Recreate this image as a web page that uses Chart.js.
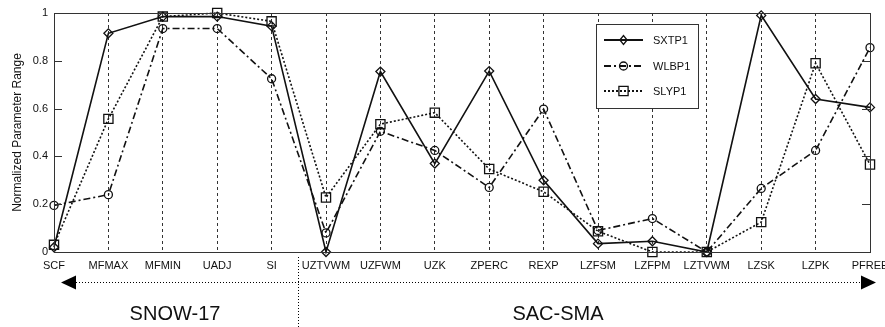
<!DOCTYPE html>
<html>
<head>
<meta charset="utf-8">
<script src="https://cdn.jsdelivr.net/npm/chart.js@4.4.1/dist/chart.umd.min.js"></script>
<style>
html,body{margin:0;padding:0;background:#fff;}
#wrap{width:885px;height:327px;}
</style>
</head>
<body>
<div id="wrap"><canvas id="c" width="885" height="327"></canvas></div>
<script>
const categories = ['SCF','MFMAX','MFMIN','UADJ','SI','UZTVWM','UZFWM','UZK','ZPERC','REXP','LZFSM','LZFPM','LZTVWM','LZSK','LZPK','PFREE'];
const sxtp1 = [0.02,0.915,0.985,0.985,0.945,0.0,0.755,0.37,0.757,0.30,0.035,0.045,0.0,0.99,0.64,0.605];
const wlbp1 = [0.195,0.24,0.935,0.935,0.725,0.08,0.505,0.425,0.27,0.598,0.09,0.14,0.0,0.266,0.425,0.855];
const slyp1 = [0.03,0.557,0.985,1.0,0.965,0.228,0.535,0.583,0.347,0.252,0.087,0.0,0.0,0.125,0.79,0.366];
const yTicks = [0,0.2,0.4,0.6,0.8,1];
const yTickLabels = ['0','0.2','0.4','0.6','0.8','1'];
const groupLabels = ['SNOW-17','SAC-SMA'];
const yTitle = 'Normalized Parameter Range';

const FONT = 'Arial, "Liberation Sans", sans-serif';
const INK = '#111';

const series = [
  {label:'SXTP1', data:sxtp1, dash:[], style:'rectRot', r:4.5},
  {label:'WLBP1', data:wlbp1, dash:[7,3,2,3], style:'circle', r:4},
  {label:'SLYP1', data:slyp1, dash:[2,2], style:'rect', r:6.5}
];

function drawMarker(ctx, style, x, y, r){
  ctx.beginPath();
  if(style==='circle'){ ctx.arc(x,y,r,0,Math.PI*2); }
  else if(style==='rect'){ const s=r*Math.SQRT1_2; ctx.rect(x-s,y-s,2*s,2*s); }
  else { ctx.moveTo(x-r*0.8,y); ctx.lineTo(x,y-r); ctx.lineTo(x+r*0.8,y); ctx.lineTo(x,y+r); ctx.closePath(); }
  ctx.stroke();
}

const framePlugin = {
  id:'frame',
  afterDatasetsDraw(chart){
    const ctx = chart.ctx, a = chart.chartArea, ys = chart.scales.y;
    ctx.save();
    ctx.strokeStyle = '#333'; ctx.lineWidth = 1; ctx.setLineDash([]);
    ctx.strokeRect(Math.round(a.left)+0.5, Math.round(a.top)+0.5, Math.round(a.right-a.left), Math.round(a.bottom-a.top));
    yTicks.forEach(v=>{
      const py = Math.round(ys.getPixelForValue(v))+0.5;
      ctx.beginPath();
      ctx.moveTo(a.left, py); ctx.lineTo(a.left+8, py);
      ctx.moveTo(a.right, py); ctx.lineTo(a.right-8, py);
      ctx.stroke();
    });
    const lx=596, ly=24, lw=102, lh=84;
    ctx.fillStyle='#fff'; ctx.fillRect(lx,ly,lw,lh);
    ctx.strokeStyle='#333'; ctx.strokeRect(lx+0.5,ly+0.5,lw,lh);
    const rows=[40,66,91];
    ctx.font = '11px '+FONT; ctx.textBaseline='middle'; ctx.textAlign='left';
    series.forEach((s,i)=>{
      const y=rows[i];
      ctx.strokeStyle=INK; ctx.lineWidth=1.8; ctx.setLineDash(s.dash);
      ctx.beginPath(); ctx.moveTo(604,y); ctx.lineTo(643,y); ctx.stroke();
      ctx.setLineDash([]); ctx.lineWidth=1.3;
      drawMarker(ctx, s.style, 623.5, y, s.r);
      ctx.fillStyle='#111'; ctx.fillText(s.label, 653, y+1);
    });
    ctx.restore();
  },
  afterDraw(chart){
    const ctx = chart.ctx;
    ctx.save();
    ctx.fillStyle='#000'; ctx.strokeStyle='#000';
    ctx.lineWidth=1; ctx.setLineDash([1,2]);
    ctx.beginPath(); ctx.moveTo(76,282.5); ctx.lineTo(861,282.5); ctx.stroke();
    ctx.beginPath(); ctx.moveTo(298.5,257); ctx.lineTo(298.5,327); ctx.stroke();
    ctx.setLineDash([]);
    ctx.beginPath(); ctx.moveTo(61,282.5); ctx.lineTo(76,275.5); ctx.lineTo(76,289.5); ctx.closePath(); ctx.fill();
    ctx.beginPath(); ctx.moveTo(876,282.5); ctx.lineTo(861,275.5); ctx.lineTo(861,289.5); ctx.closePath(); ctx.fill();
    ctx.font='20px '+FONT; ctx.textAlign='center'; ctx.textBaseline='middle';
    ctx.fillStyle='#111';
    ctx.fillText(groupLabels[0], 175, 314);
    ctx.fillText(groupLabels[1], 558, 314);
    ctx.restore();
  }
};

new Chart(document.getElementById('c'), {
  type:'line',
  data:{
    labels:categories,
    datasets: series.map(s=>({
      label:s.label, data:s.data,
      borderColor:INK, borderWidth:1.6, borderDash:s.dash,
      pointStyle:s.style, pointRadius:s.r, pointBorderWidth:1.3,
      pointBorderColor:INK, pointBackgroundColor:'rgba(0,0,0,0)',
      tension:0, fill:false, clip:false
    }))
  },
  options:{
    responsive:false, animation:false, devicePixelRatio:1,
    layout:{padding:{top:13,right:15,left:0,bottom:0}},
    plugins:{legend:{display:false}, tooltip:{enabled:false}},
    scales:{
      x:{
        type:'category', offset:false,
        grid:{display:true, drawOnChartArea:true, drawTicks:false, color:'#333', lineWidth:1},
        border:{display:false, dash:[3,3]},
        ticks:{padding:7, color:'#111', font:{family:FONT, size:11}, autoSkip:false, maxRotation:0},
        afterFit(s){ s.height=75; s.paddingLeft=0; s.paddingRight=0; }
      },
      y:{
        min:0, max:1,
        afterBuildTicks(s){ s.ticks = yTicks.map(v=>({value:v})); },
        grid:{display:false, drawTicks:false},
        border:{display:false},
        ticks:{padding:6, color:'#111', font:{family:FONT, size:11},
          callback:(v,i)=>yTickLabels[i]},
        title:{display:true, text:yTitle, color:'#111', font:{family:FONT, size:12}, padding:{top:10,bottom:0}},
        afterFit(s){ s.width=54; s.paddingTop=0; s.paddingBottom=0; }
      }
    }
  },
  plugins:[framePlugin]
});
</script>
</body>
</html>
